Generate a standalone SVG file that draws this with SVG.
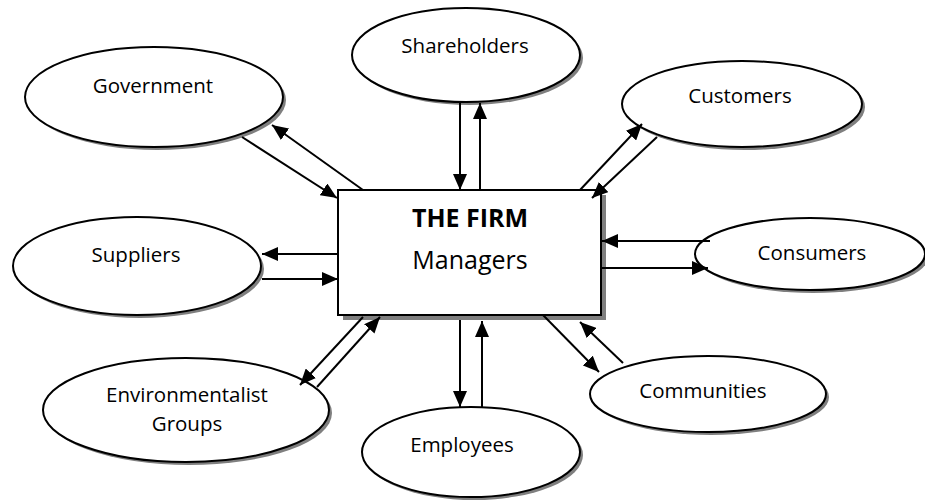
<svg xmlns="http://www.w3.org/2000/svg" width="925" height="502" viewBox="0 0 925 502">
<style>
.shadow{fill:#7f7f7f;stroke:none}
.shape{fill:#fff;stroke:#000;stroke-width:2}
.lbl{font-family:"Open Sans","Liberation Sans",sans-serif;font-size:20.5px;fill:#000;text-anchor:middle}
.conn line{stroke:#000;stroke-width:2;marker-end:url(#ah)}
</style>
<defs>
<marker id="ah" markerUnits="userSpaceOnUse" markerWidth="17" markerHeight="14" refX="16" refY="7" orient="auto">
<path d="M0,0 L16,7 L0,14 z" fill="#000"/>
</marker>
</defs>
<rect width="925" height="502" fill="#fff"/>
<g id="government">
<ellipse class="shadow" cx="157" cy="100" rx="129" ry="50"/>
<ellipse class="shape" cx="154" cy="97" rx="129" ry="50"/>
<text class="lbl" x="153" y="93">Government</text>
</g>
<g id="shareholders">
<ellipse class="shadow" cx="469" cy="58" rx="114" ry="47"/>
<ellipse class="shape" cx="466" cy="55" rx="114" ry="47"/>
<text class="lbl" x="465" y="53">Shareholders</text>
</g>
<g id="customers">
<ellipse class="shadow" cx="745" cy="107" rx="120" ry="43"/>
<ellipse class="shape" cx="742" cy="104" rx="120" ry="43"/>
<text class="lbl" x="740" y="103">Customers</text>
</g>
<g id="consumers">
<ellipse class="shadow" cx="813" cy="257" rx="115" ry="36"/>
<ellipse class="shape" cx="810" cy="254" rx="115" ry="36"/>
<text class="lbl" x="812" y="260">Consumers</text>
</g>
<g id="suppliers">
<ellipse class="shadow" cx="140" cy="269" rx="124" ry="49"/>
<ellipse class="shape" cx="137" cy="266" rx="124" ry="49"/>
<text class="lbl" x="136" y="262">Suppliers</text>
</g>
<g id="environmentalist">
<ellipse class="shadow" cx="189" cy="413" rx="143" ry="52"/>
<ellipse class="shape" cx="186" cy="410" rx="143" ry="52"/>
<text class="lbl" x="187" y="402">Environmentalist</text>
<text class="lbl" x="187" y="431">Groups</text>
</g>
<g id="employees">
<ellipse class="shadow" cx="474" cy="455" rx="109" ry="45"/>
<ellipse class="shape" cx="471" cy="452" rx="109" ry="45"/>
<text class="lbl" x="462" y="452">Employees</text>
</g>
<g id="communities">
<ellipse class="shadow" cx="711" cy="397" rx="118" ry="38"/>
<ellipse class="shape" cx="708" cy="394" rx="118" ry="38"/>
<text class="lbl" x="703" y="398">Communities</text>
</g>
<g id="firm">
<rect class="shadow" x="343" y="195" width="263" height="125"/>
<rect class="shape" x="338" y="190" width="263" height="125"/>
<text class="lbl" x="470" y="227" style="font-size:25px;font-weight:bold">THE FIRM</text>
<text class="lbl" x="470" y="269" style="font-size:25px">Managers</text>
</g>
<g id="connectors" class="conn">
<line x1="242" y1="137" x2="337" y2="198"/>
<line x1="363" y1="190" x2="272" y2="125"/>
<line x1="460" y1="102" x2="460" y2="190"/>
<line x1="480" y1="190" x2="480" y2="103"/>
<line x1="580" y1="190" x2="642" y2="124"/>
<line x1="657" y1="137" x2="592" y2="198"/>
<line x1="710" y1="241" x2="602" y2="241"/>
<line x1="602" y1="268" x2="708" y2="268"/>
<line x1="338" y1="254" x2="262" y2="254"/>
<line x1="262" y1="279" x2="338" y2="279"/>
<line x1="363" y1="317" x2="300" y2="385"/>
<line x1="317" y1="387" x2="380" y2="317"/>
<line x1="460" y1="320" x2="460" y2="407"/>
<line x1="482" y1="408" x2="482" y2="321"/>
<line x1="543" y1="315" x2="599" y2="372"/>
<line x1="623" y1="363" x2="580" y2="322"/>
</g>
</svg>
